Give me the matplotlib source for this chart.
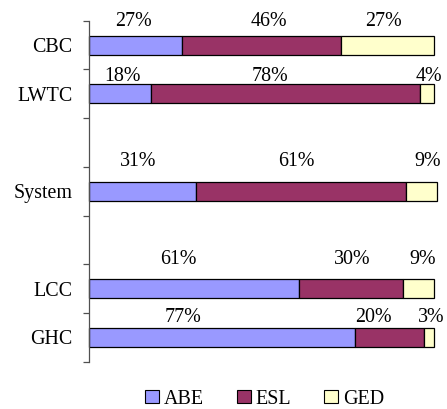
import matplotlib
matplotlib.use("Agg")
import matplotlib.pyplot as plt
import numpy as np
from matplotlib.patches import Patch

plt.rcParams['font.family'] = ['Liberation Serif', 'DejaVu Serif']

# Program share by site
categories = ['CBC', 'LWTC', 'System', 'LCC', 'GHC']
series_names = ['ABE', 'ESL', 'GED']
abe = [27, 18, 31, 61, 77]
esl = [46, 78, 61, 30, 20]
ged = [27, 4, 9, 9, 3]

# Layout: row slots (gaps left empty between groups), label placement tweaks
slot_pos = [0, 1, 3, 5, 6]
n_slots = 7
label_rise = [0.49, 0.36, 0.60, 0.60, 0.41]
label_dx = [[-0.7, 2.2, -1.3],
            [0.6, -4.5, 0.6],
            [-1.3, -1.5, 1.5],
            [-4.7, 0.2, 1.3],
            [-11.3, -4.7, 0.6]]
colors = ['#9999FF', '#993366', '#FFFFCC']
fs = 14.4

fig = plt.figure(figsize=(4.47, 4.09), dpi=100)
ax = fig.add_axes([89 / 447, 1 - 361.7 / 409, 355.4 / 447, (361.7 - 20.7) / 409])

series = [abe, esl, ged]
left = np.zeros(len(categories))
for vals, col, name in zip(series, colors, series_names):
    vals = np.asarray(vals, dtype=float)
    ax.barh(slot_pos, vals, left=left, height=0.39, color=col,
            edgecolor='black', linewidth=0.9, label=name, clip_on=False)
    left = left + vals

# Value labels above each segment
for i, pos in enumerate(slot_pos):
    start = 0.0
    for j, vals in enumerate(series):
        v = vals[i]
        cx = start + v / 2 + label_dx[i][j]
        ax.text(cx, pos - label_rise[i], f'{v}%', ha='center', va='center',
                fontsize=fs)
        start += v

ax.set_xlim(0, 103)
ax.set_ylim(n_slots - 0.5, -0.5)

ytick_labels = [''] * n_slots
for c, p in zip(categories, slot_pos):
    ytick_labels[p] = c
ax.set_yticks(range(n_slots))
ax.set_yticklabels(ytick_labels, fontsize=fs)
ax.set_yticks(np.arange(-0.5, n_slots, 1.0), minor=True)
ax.tick_params(axis='y', which='major', length=0, pad=12)
ax.tick_params(axis='y', which='minor', length=4.5, width=0.9, color='#505050',
               direction='out')
ax.set_xticks([])

for side in ['top', 'right', 'bottom']:
    ax.spines[side].set_visible(False)
ax.spines['left'].set_color('#505050')
ax.spines['left'].set_linewidth(0.9)

handles = [Patch(facecolor=c, edgecolor='black', linewidth=0.8) for c in colors]
fig.legend(handles, series_names, loc='center', bbox_to_anchor=(264.5 / 447, 1 - 399 / 409),
           ncol=3, frameon=False, fontsize=fs, handlelength=0.7, handleheight=0.65,
           handletextpad=0.25, columnspacing=1.65, borderpad=0)

fig.savefig('out.png', dpi=100)
